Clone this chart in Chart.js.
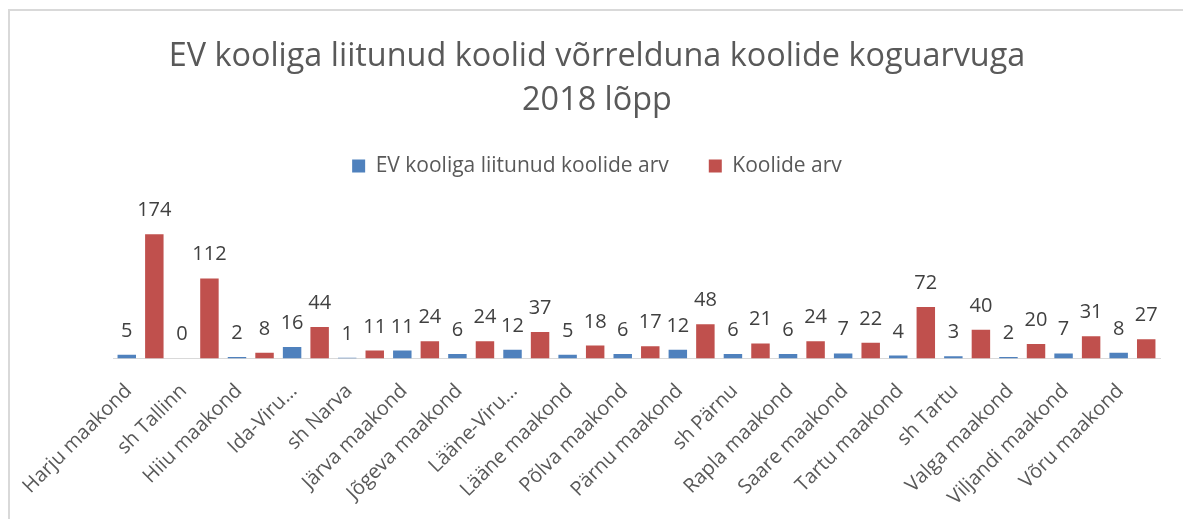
<!DOCTYPE html>
<html>
<head>
<meta charset="utf-8">
<script src="https://cdn.jsdelivr.net/npm/chart.js@4"></script>
<style>
  html, body { margin: 0; padding: 0; background: #fff; overflow: hidden; }
  #frame { position: absolute; left: 8px; top: 9px; width: 1300px; height: 600px;
           border-top: 2px solid #d9d9d9; border-left: 2px solid #d9d9d9; }
  #chart01 { position: absolute; left: 0; top: 0; }
</style>
</head>
<body>
<div id="frame"></div>
<canvas id="chart01" width="1183" height="519"></canvas>
<script>
const aLabel = ["Harju maakond", "sh Tallinn", "Hiiu maakond", "Ida-Viru…", "sh Narva",
  "Järva maakond", "Jõgeva maakond", "Lääne-Viru…", "Lääne maakond", "Põlva maakond",
  "Pärnu maakond", "sh Pärnu", "Rapla maakond", "Saare maakond", "Tartu maakond",
  "sh Tartu", "Valga maakond", "Viljandi maakond", "Võru maakond"];
const aLiitunud = [5, 0, 2, 16, 1, 11, 6, 12, 5, 6, 12, 6, 6, 7, 4, 3, 2, 7, 8];
const aKoolid = [174, 112, 8, 44, 11, 24, 24, 37, 18, 17, 48, 21, 24, 22, 72, 40, 20, 31, 27];

const sFont = "'Open Sans', 'Noto Sans', sans-serif";
const sText = "#595959";

// väärtused tulpade kohal
const valueLabels = {
  id: "valueLabels",
  afterDatasetsDraw(chart) {
    const ctx = chart.ctx;
    ctx.save();
    ctx.font = "20px " + sFont;
    ctx.fillStyle = "#404040";
    ctx.textAlign = "center";
    ctx.textBaseline = "alphabetic";
    chart.data.datasets.forEach((ds, i) => {
      chart.getDatasetMeta(i).data.forEach((bar, j) => {
        ctx.fillText(String(ds.data[j]), bar.x, bar.y - 18);
      });
    });
    ctx.restore();
  }
};

new Chart(document.getElementById("chart01"), {
  type: "bar",
  data: {
    labels: aLabel,
    datasets: [
      { label: "EV kooliga liitunud koolide arv", data: aLiitunud, backgroundColor: "#4f81bd" },
      { label: "Koolide arv", data: aKoolid, backgroundColor: "#c0504d" }
    ]
  },
  options: {
    responsive: false,
    animation: false,
    layout: { padding: { left: 34, right: 23, top: 35, bottom: -4 } },
    categoryPercentage: 1,
    barPercentage: 0.67,
    plugins: {
      title: {
        display: true,
        text: ["EV kooliga liitunud koolid võrrelduna koolide koguarvuga", "2018 lõpp"],
        color: sText,
        font: { family: sFont, size: 32.4, weight: "normal", lineHeight: 1.35 },
        padding: { top: 0, bottom: -7 }
      },
      legend: {
        position: "top",
        labels: {
          color: sText,
          font: { family: sFont, size: 21 },
          boxWidth: 13,
          boxHeight: 13,
          padding: 40
        }
      },
      tooltip: { enabled: false }
    },
    scales: {
      x: {
        grid: { display: false },
        border: { color: "#d9d9d9", width: 1 },
        ticks: {
          color: sText,
          font: { family: sFont, size: 20 },
          maxRotation: 45,
          minRotation: 45,
          autoSkip: false,
          padding: 13,
          labelOffset: -12
        }
      },
      y: {
        display: true,
        min: 0,
        max: 241,
        grid: { display: false },
        border: { display: false },
        ticks: { display: false },
        afterFit(scale) { scale.width = 79; }
      }
    }
  },
  plugins: [valueLabels]
});
</script>
</body>
</html>
